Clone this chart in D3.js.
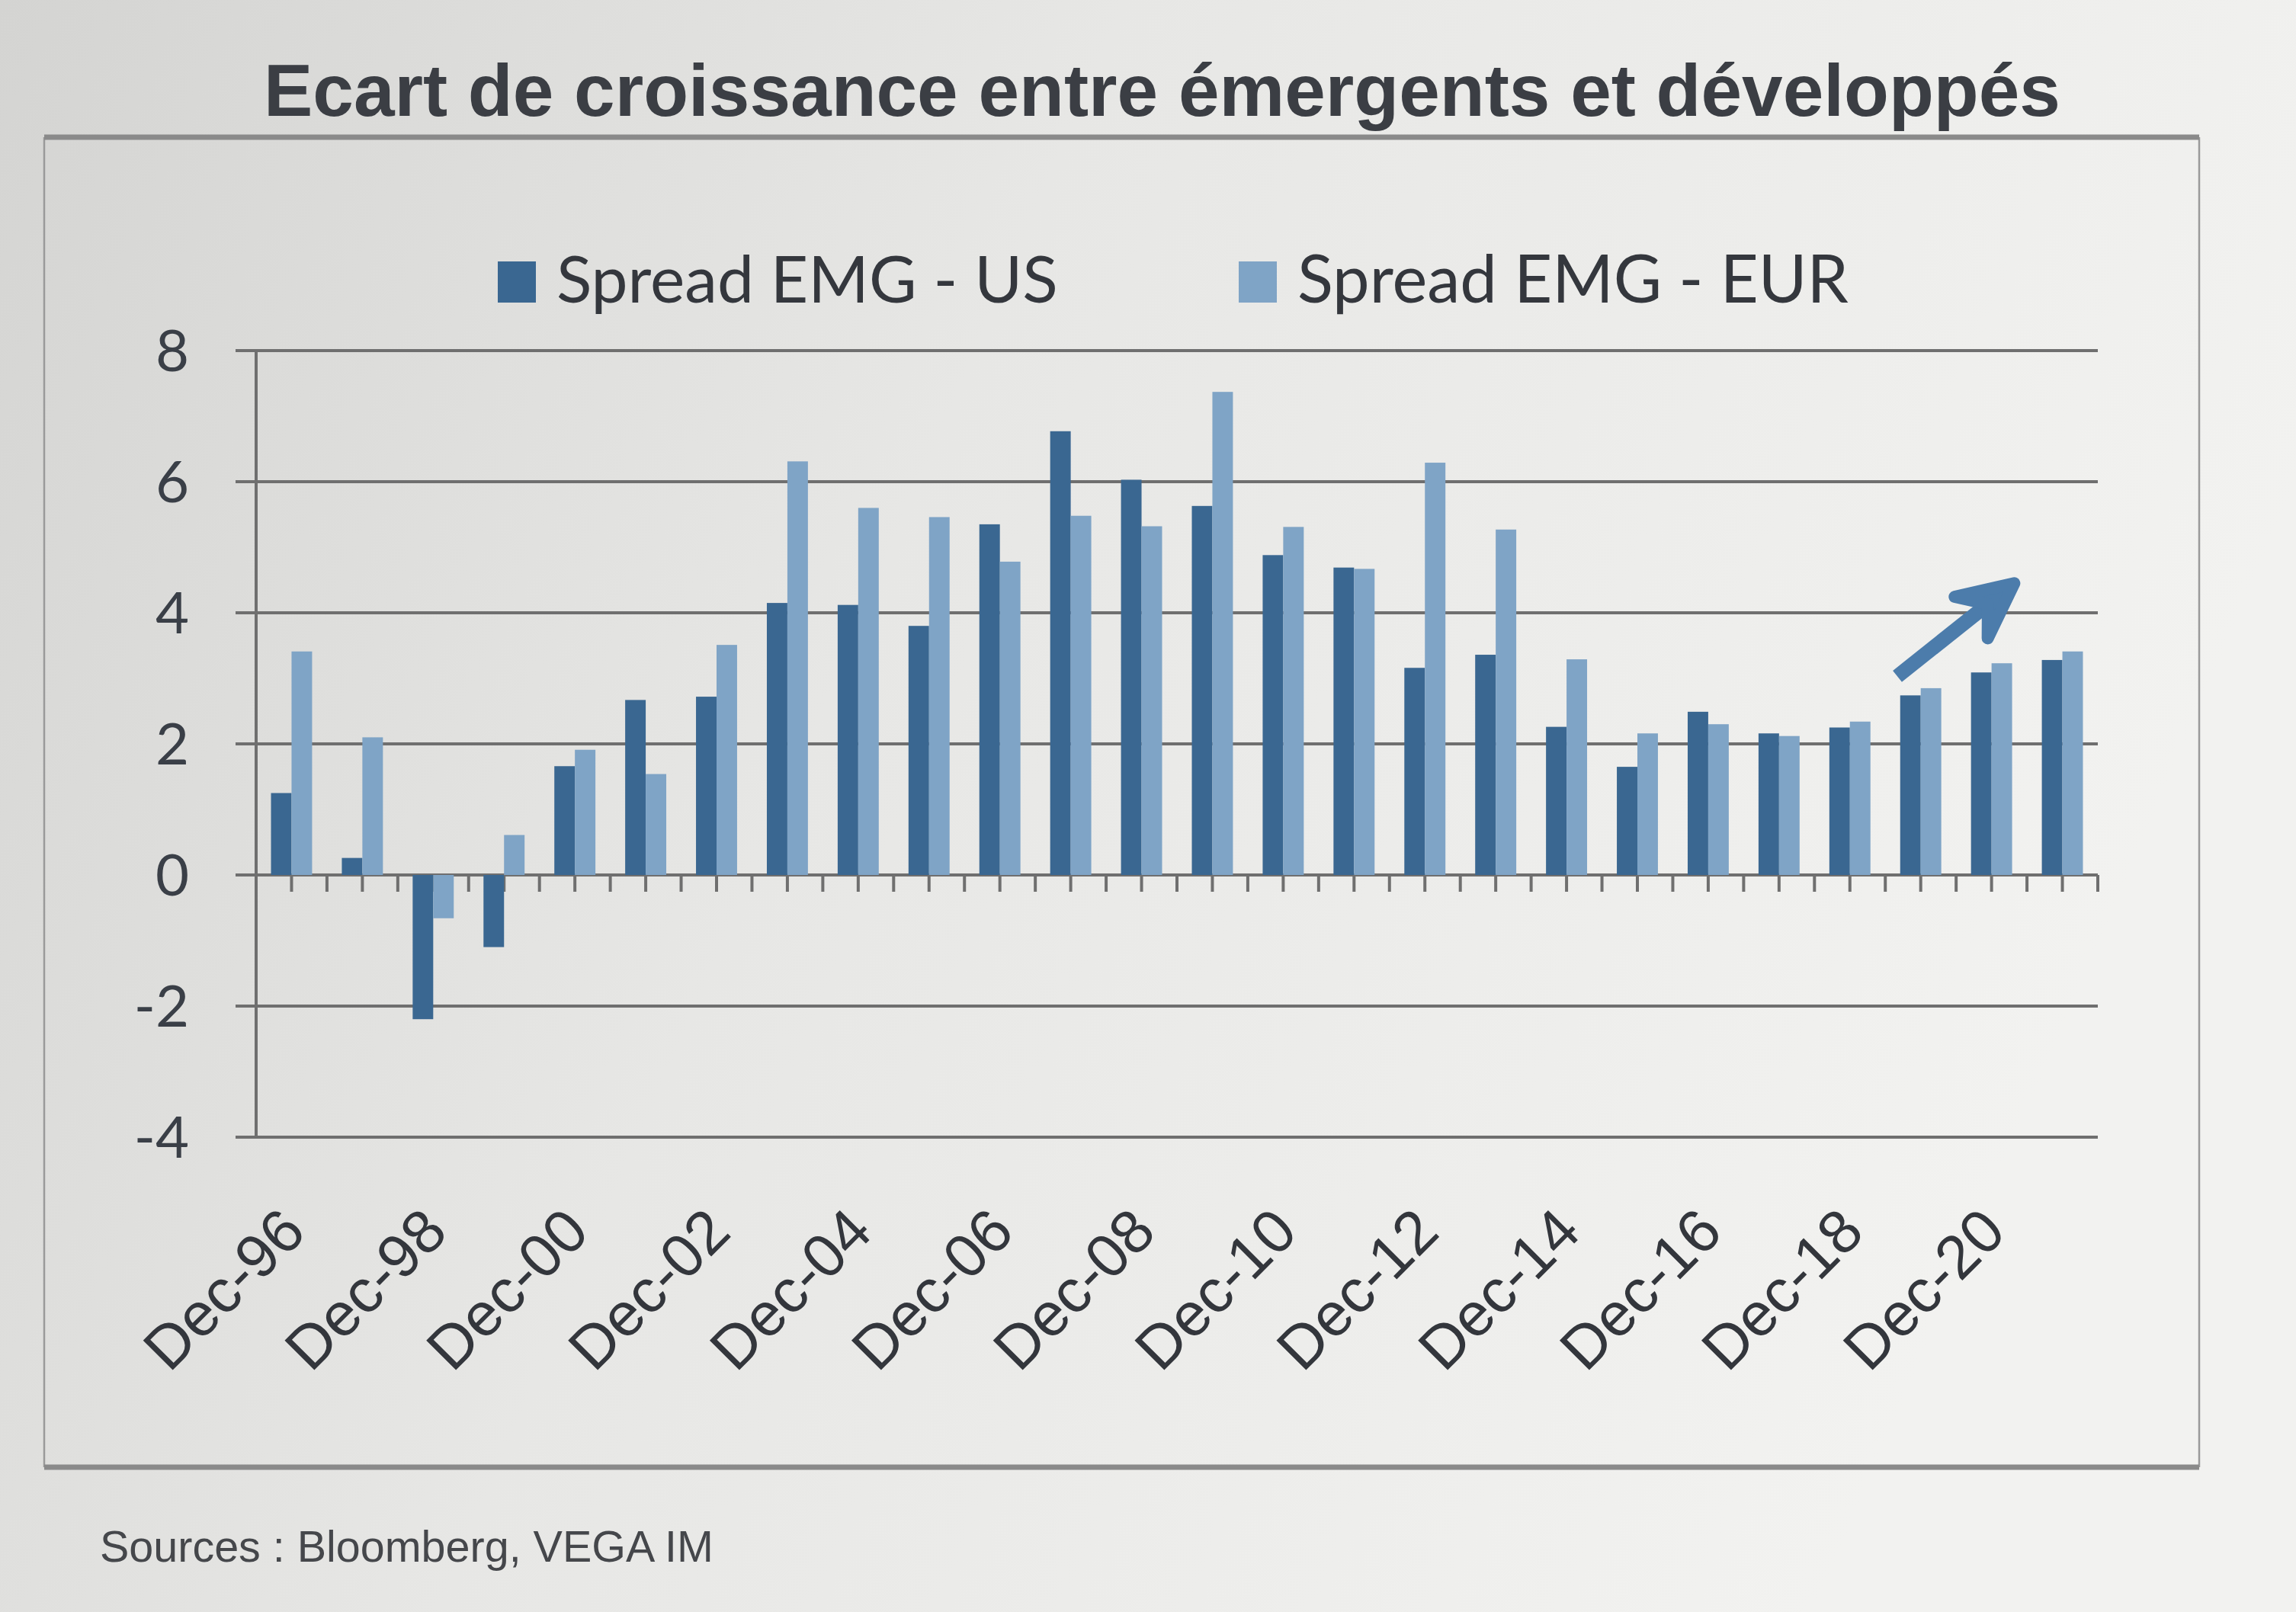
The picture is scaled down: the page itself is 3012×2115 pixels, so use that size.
<!DOCTYPE html>
<html><head><meta charset="utf-8">
<script src="https://cdn.jsdelivr.net/npm/d3@7"></script>
<style>html,body{margin:0;padding:0;background:#e4e4e2;} svg{display:block}</style>
</head><body>
<svg id="c" width="3012" height="2115"></svg>
<script>
const categories = ["Dec-96","Dec-97","Dec-98","Dec-99","Dec-00","Dec-01","Dec-02","Dec-03","Dec-04","Dec-05","Dec-06","Dec-07","Dec-08","Dec-09","Dec-10","Dec-11","Dec-12","Dec-13","Dec-14","Dec-15","Dec-16","Dec-17","Dec-18","Dec-19","Dec-20","Dec-21"];
const tickLabels = ["Dec-96","Dec-98","Dec-00","Dec-02","Dec-04","Dec-06","Dec-08","Dec-10","Dec-12","Dec-14","Dec-16","Dec-18","Dec-20"];
const seriesNames = ["Spread EMG - US","Spread EMG - EUR"];
const spreadUS  = [1.25,0.26,-2.2,-1.1,1.66,2.67,2.72,4.15,4.12,3.8,5.35,6.77,6.03,5.63,4.88,4.69,3.16,3.36,2.26,1.65,2.49,2.16,2.25,2.74,3.09,3.28];
const spreadEUR = [3.41,2.1,-0.66,0.61,1.91,1.54,3.51,6.31,5.6,5.46,4.78,5.48,5.32,7.37,5.31,4.67,6.29,5.27,3.29,2.16,2.3,2.12,2.34,2.85,3.23,3.41];
const yTicks = [-4,-2,0,2,4,6,8];
const titleText = "Ecart de croissance entre émergents et développés";
const sourceText = "Sources : Bloomberg, VEGA IM";
// trend arrow annotation (category, fraction of band, value)
const arrowFrom = {cat:"Dec-19", off:0.25, v:3.1};
const arrowTo   = {cat:"Dec-20", off:0.82, v:4.45};

const colors = ["#3a6791", "#7fa4c6"];
const svg = d3.select("#c");

// background
const defs = svg.append("defs");
const grad = defs.append("linearGradient").attr("id","bg").attr("x1","0").attr("x2","1").attr("y1","0").attr("y2","0.3");
grad.append("stop").attr("offset","0").attr("stop-color","#d4d4d2");
grad.append("stop").attr("offset","0.45").attr("stop-color","#e7e7e5");
grad.append("stop").attr("offset","1").attr("stop-color","#f2f2f0");
svg.append("rect").attr("width",3012).attr("height",2115).attr("fill","url(#bg)");

// frame
const frame = {l:58, t:180, r:2885, b:1925};
svg.append("line").attr("x1",frame.l).attr("x2",frame.l).attr("y1",frame.t).attr("y2",frame.b).attr("stroke","#9a9a9a").attr("stroke-width",2.5);
svg.append("line").attr("x1",frame.r).attr("x2",frame.r).attr("y1",frame.t).attr("y2",frame.b).attr("stroke","#9a9a9a").attr("stroke-width",2.5);
svg.append("line").attr("x1",frame.l).attr("x2",frame.r).attr("y1",frame.t).attr("y2",frame.t).attr("stroke","#8a8a8a").attr("stroke-width",7);
svg.append("line").attr("x1",frame.l).attr("x2",frame.r).attr("y1",frame.b).attr("y2",frame.b).attr("stroke","#8a8a8a").attr("stroke-width",7);

function fit(sel, target){
  const n = sel.node();
  const fs = parseFloat(sel.attr("font-size"));
  const w = n.getComputedTextLength();
  sel.attr("font-size", fs*target/w);
}

// title
const title = svg.append("text").attr("x",346).attr("y",152).attr("font-family","Liberation Sans, Arial, sans-serif")
  .attr("font-weight","bold").attr("font-size",90).attr("fill","#3b3e44").text(titleText);
fit(title, 2357);

// scales
const x = d3.scaleBand().domain(categories).range([336, 2752]).padding(0);
const y = d3.scaleLinear().domain([-4, 8]).range([1492, 460]);
const bw = x.bandwidth();
const gw = bw*0.58;
const xs = d3.scaleBand().domain(seriesNames).range([0, gw]);

// gridlines
const gridColor = "#6f6f6f";
svg.append("g").selectAll("line").data(yTicks).join("line")
  .attr("x1", 309).attr("x2", 2752).attr("y1", d=>y(d)).attr("y2", d=>y(d))
  .attr("stroke", gridColor).attr("stroke-width", 4);
// y axis line
svg.append("line").attr("x1",336).attr("x2",336).attr("y1",y(8)).attr("y2",y(-4)).attr("stroke",gridColor).attr("stroke-width",4);

// y labels
svg.append("g").selectAll("text").data(yTicks).join("text")
  .attr("x", 248).attr("y", d=>y(d)).attr("dy","0.36em").attr("text-anchor","end")
  .attr("font-family","Lato, sans-serif").attr("font-size",76).attr("fill","#3a3f47").text(d=>d);

// x ticks at zero line (band centers and boundaries)
const tickPos = [];
categories.forEach(c => { tickPos.push(x(c)); tickPos.push(x(c)+bw/2); });
tickPos.push(x.range()[1]);
svg.append("g").selectAll("line").data(tickPos).join("line")
  .attr("x1", d=>d).attr("x2", d=>d).attr("y1", y(0)).attr("y2", y(0)+22)
  .attr("stroke", gridColor).attr("stroke-width", 4);

// bars
const data = categories.map((c,i)=>({c, vals:[spreadUS[i], spreadEUR[i]]}));
const groups = svg.append("g").selectAll("g").data(data).join("g")
  .attr("transform", d=>`translate(${x(d.c)+(bw-gw)/2},0)`);
groups.selectAll("rect").data(d=>d.vals.map((v,k)=>({v, s:seriesNames[k], k}))).join("rect")
  .attr("x", d=>xs(d.s)).attr("width", xs.bandwidth())
  .attr("y", d=>y(Math.max(0,d.v))).attr("height", d=>Math.abs(y(d.v)-y(0)))
  .attr("fill", d=>colors[d.k]);

// x labels
svg.append("g").selectAll("text").data(tickLabels).join("text")
  .attr("transform", d=>`translate(${x(d)+bw/2+2},1600) rotate(-45)`)
  .attr("text-anchor","end").attr("dy","0.35em")
  .attr("font-family","Liberation Sans, Arial, sans-serif").attr("font-size",80).attr("fill","#33363c").text(d=>d);

// arrow
const arrowColor = "#4c7cab";
const ax1 = x(arrowFrom.cat)+bw*arrowFrom.off, ay1 = y(arrowFrom.v);
const ax2 = x(arrowTo.cat)+bw*arrowTo.off, ay2 = y(arrowTo.v);
const ang = Math.atan2(ay2-ay1, ax2-ax1);
const hl = 80, ha = 0.45;
const p1 = [ax2 - hl*Math.cos(ang-ha), ay2 - hl*Math.sin(ang-ha)];
const p2 = [ax2 - hl*Math.cos(ang+ha), ay2 - hl*Math.sin(ang+ha)];
const notch = [ax2 - 0.55*hl*Math.cos(ang), ay2 - 0.55*hl*Math.sin(ang)];
svg.append("line").attr("x1",ax1).attr("y1",ay1).attr("x2",notch[0]).attr("y2",notch[1])
  .attr("stroke",arrowColor).attr("stroke-width",19).attr("stroke-linecap","square");
svg.append("path").attr("d",`M${p1[0]},${p1[1]}L${ax2},${ay2}L${p2[0]},${p2[1]}L${notch[0]},${notch[1]}Z`)
  .attr("fill",arrowColor).attr("stroke",arrowColor).attr("stroke-width",16).attr("stroke-linejoin","round").attr("stroke-linecap","round");

// legend
const legX = [653, 1625], legW = [658, 723];
seriesNames.forEach((s,k)=>{
  svg.append("rect").attr("x",legX[k]).attr("y",343).attr("width",50).attr("height",54).attr("fill",colors[k]);
  const t = svg.append("text").attr("x",legX[k]+77).attr("y",397).attr("font-family","Lato, sans-serif")
    .attr("font-size",86).attr("fill","#34373d").text(s);
  fit(t, legW[k]);
});

// source
const src = svg.append("text").attr("x",131).attr("y",2049).attr("font-family","Liberation Sans, Arial, sans-serif")
  .attr("font-size",56).attr("fill","#45474b").text(sourceText);
fit(src, 805);
</script>
</body></html>
